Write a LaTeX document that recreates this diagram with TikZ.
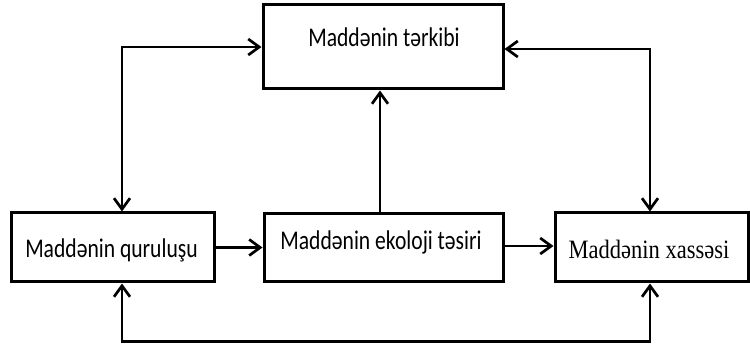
\documentclass[tikz,border=0pt]{standalone}
\usepackage{fontspec}
\setmainfont{Carlito}
\newfontfamily\serifcam{Liberation Serif}
\usetikzlibrary{arrows.meta}
\begin{document}
\begin{tikzpicture}[x=1pt,y=-1pt,
  boxnode/.style={draw,line width=3pt,rectangle,inner sep=0pt},
  lbl/.style={anchor=base,inner sep=0pt,font=\fontsize{27}{30}\selectfont},
  conn/.style={line width=2.7pt,arrows={-Straight Barb[length=11pt,width=16pt]}},
  dconn/.style={line width=2.7pt,arrows={Straight Barb[length=11pt,width=16pt]-Straight Barb[length=11pt,width=16pt]}}]
\useasboundingbox (0,0) rectangle (750,347);
% boxes
\node[boxnode,minimum width=240pt,minimum height=84pt] (top) at (383,47) {};
\node[boxnode,minimum width=203pt,minimum height=69pt] (left) at (112.5,247.5) {};
\node[boxnode,minimum width=239pt,minimum height=68pt] (mid) at (383.5,248) {};
\node[boxnode,minimum width=193pt,minimum height=69pt] (right) at (651.5,247.5) {};
% texts
\node[lbl] (ttop) at (384,46.7) {\scalebox{0.8}[1]{Maddənin tərkibi}};
\node[lbl] (tleft) at (111.5,257.7) {\scalebox{0.8}[1]{Maddənin quruluşu}};
\node[lbl] (tmid) at (381,250) {\scalebox{0.8}[1]{Maddənin ekoloji təsiri}};
\node[lbl,font=\serifcam\fontsize{26.5}{30}\selectfont] (tright) at (649,258.3) {\scalebox{0.85}[1]{Maddənin xassəsi}};
% helper coordinates
\coordinate (cl) at (122,47);
\coordinate (cr) at (650,49);
\coordinate (bl) at (122,341.5);
\coordinate (br) at (650,341.5);
\coordinate (vm) at (380,0);
\coordinate (hm) at (0,246);
% connectors
\draw[dconn] (top.west |- cl) -- (cl) -- (cl |- left.north);
\draw[dconn] (top.east |- cr) -- (cr) -- (cr |- right.north);
\draw[conn] (mid.north -| vm) -- (top.south -| vm);
\draw[conn] (left.east) -- (mid.west |- left.east);
\draw[conn] (mid.east |- hm) -- (right.west |- hm);
\draw[dconn] (bl |- left.south) -- (bl) -- (br) -- (br |- right.south);
\end{tikzpicture}
\end{document}
